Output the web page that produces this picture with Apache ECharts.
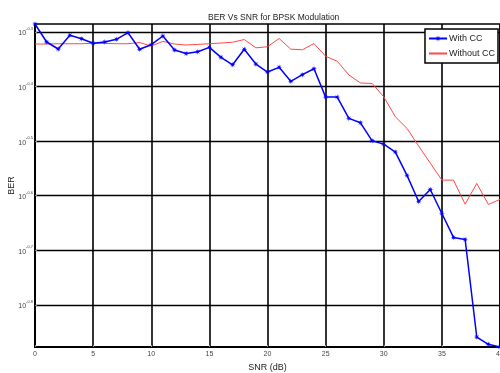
<!DOCTYPE html>
<html><head><meta charset="utf-8">
<script src="https://cdn.jsdelivr.net/npm/echarts@6/dist/echarts.min.js"></script>
<style>html,body{margin:0;padding:0;background:#fff}#c{width:500px;height:373px}</style>
</head><body><div id="c"></div>
<script>
const snrDb = [0,1,2,3,4,5,6,7,8,9,10,11,12,13,14,15,16,17,18,19,20,21,22,23,24,25,26,27,28,29,30,31,32,33,34,35,36,37,38,39,40];
const berWithCC = [0.5184,0.4805,0.4665,0.4942,0.4872,0.4779,0.4805,0.4860,0.4997,0.4660,0.4750,0.4928,0.4645,0.4577,0.4612,0.4698,0.4504,0.4365,0.4660,0.4378,0.4233,0.4318,0.4071,0.4186,0.4292,0.3808,0.3808,0.3481,0.3417,0.3167,0.3123,0.3020,0.2737,0.2452,0.2579,0.2331,0.2107,0.2089,0.1384,0.1342,0.1327];
const berWithoutCC = [0.4764,0.4764,0.4770,0.4770,0.4770,0.4779,0.4779,0.4770,0.4770,0.4794,0.4724,0.4818,0.4764,0.4744,0.4757,0.4770,0.4784,0.4800,0.4855,0.4688,0.4710,0.4876,0.4662,0.4650,0.4774,0.4524,0.4430,0.4181,0.4042,0.4034,0.3813,0.3504,0.3337,0.3097,0.2883,0.2683,0.2683,0.2424,0.2646,0.2421,0.2473];
const yTickExponents = [-0.8,-0.7,-0.6,-0.5,-0.4,-0.3];
const seriesNames = ['With CC','Without CC'];

// star marker path (style only)
function starPath(){
  let d = '';
  for (let k = 0; k < 16; k++) {
    const a = k * Math.PI / 8 - Math.PI / 2;
    const r = (k % 2 === 0) ? 10 : 3.5;
    const x = (10 + r * Math.cos(a)).toFixed(2), y = (10 + r * Math.sin(a)).toFixed(2);
    d += (k === 0 ? 'M' : 'L') + x + ' ' + y + ' ';
  }
  return 'path://' + d + 'Z';
}
const star = starPath();

const chart = echarts.init(document.getElementById('c'), null, {renderer:'canvas'});
const toLog = arr => arr.map((v, i) => [snrDb[i], Math.log10(v)]);
const yMin = Math.log10(berWithCC[berWithCC.length-1]);
const yMax = Math.log10(berWithCC[0]);
const font = 'Liberation Sans, Arial, sans-serif';

chart.setOption({
  animation: false,
  backgroundColor: '#fff',
  title: {
    text: 'BER Vs SNR for BPSK Modulation',
    left: 203, top: 8,
    textStyle: {fontSize: 8.5, fontWeight: 'normal', color: '#222', fontFamily: font}
  },
  legend: {
    data: [{name: seriesNames[0]}, {name: seriesNames[1], itemStyle: {opacity: 0}}],
    orient: 'vertical',
    right: 2, top: 29,
    backgroundColor: '#fff',
    borderColor: '#000', borderWidth: 1.5, borderRadius: 0,
    padding: [5, 3, 5, 3],
    itemGap: 6,
    itemWidth: 18, itemHeight: 8,
    textStyle: {fontSize: 9, color: '#222', fontFamily: font, padding: [0,0,0,-3]}
  },
  grid: {left: 35, right: 0, top: 24, bottom: 26, show: true, borderColor: '#000', borderWidth: 1.5, containLabel: false, outerBoundsMode: 'none'},
  xAxis: {
    type: 'value', min: 0, max: 40, interval: 5,
    name: 'SNR (dB)', nameLocation: 'middle', nameGap: 16, nameMoveOverlap: false,
    nameTextStyle: {fontSize: 9, color: '#222', fontFamily: font},
    axisLine: {lineStyle: {color: '#000', width: 2}},
    axisTick: {inside: true, length: 2, lineStyle: {color: '#888'}},
    axisLabel: {fontSize: 7, color: '#444', margin: 4, fontFamily: font},
    splitLine: {show: true, lineStyle: {color: '#000', width: 1.6}}
  },
  yAxis: {
    type: 'value', min: yMin, max: yMax,
    name: 'BER', nameLocation: 'middle', nameGap: 19, nameMoveOverlap: false,
    nameTextStyle: {fontSize: 9, color: '#222', fontFamily: font},
    axisLine: {lineStyle: {color: '#000', width: 2}},
    axisTick: {show: true, inside: true, length: 2, customValues: yTickExponents, lineStyle: {color: '#888'}},
    axisLabel: {
      customValues: yTickExponents, margin: 2, fontFamily: font,
      formatter: v => '{b|10}{s|' + v.toFixed(1) + '}',
      rich: {
        b: {fontSize: 7, color: '#444', fontFamily: font, lineHeight: 10, verticalAlign: 'bottom'},
        s: {fontSize: 4, color: '#444', fontFamily: font, lineHeight: 10, verticalAlign: 'top', padding: [0,0,6,0]}
      }
    },
    splitLine: {show: true, lineStyle: {color: '#000', width: 1.3}}
  },
  series: [
    {
      name: seriesNames[0], type: 'line', data: toLog(berWithCC),
      symbol: star, symbolSize: 6, z: 3,
      lineStyle: {color: '#0000ff', width: 1.5},
      itemStyle: {color: '#0000ff'}
    },
    {
      name: seriesNames[1], type: 'line', data: toLog(berWithoutCC),
      symbol: 'circle', showSymbol: false, z: 2,
      lineStyle: {color: '#ff4848', width: 1},
      itemStyle: {color: '#ff4848'}
    }
  ]
});
</script>
</body></html>
